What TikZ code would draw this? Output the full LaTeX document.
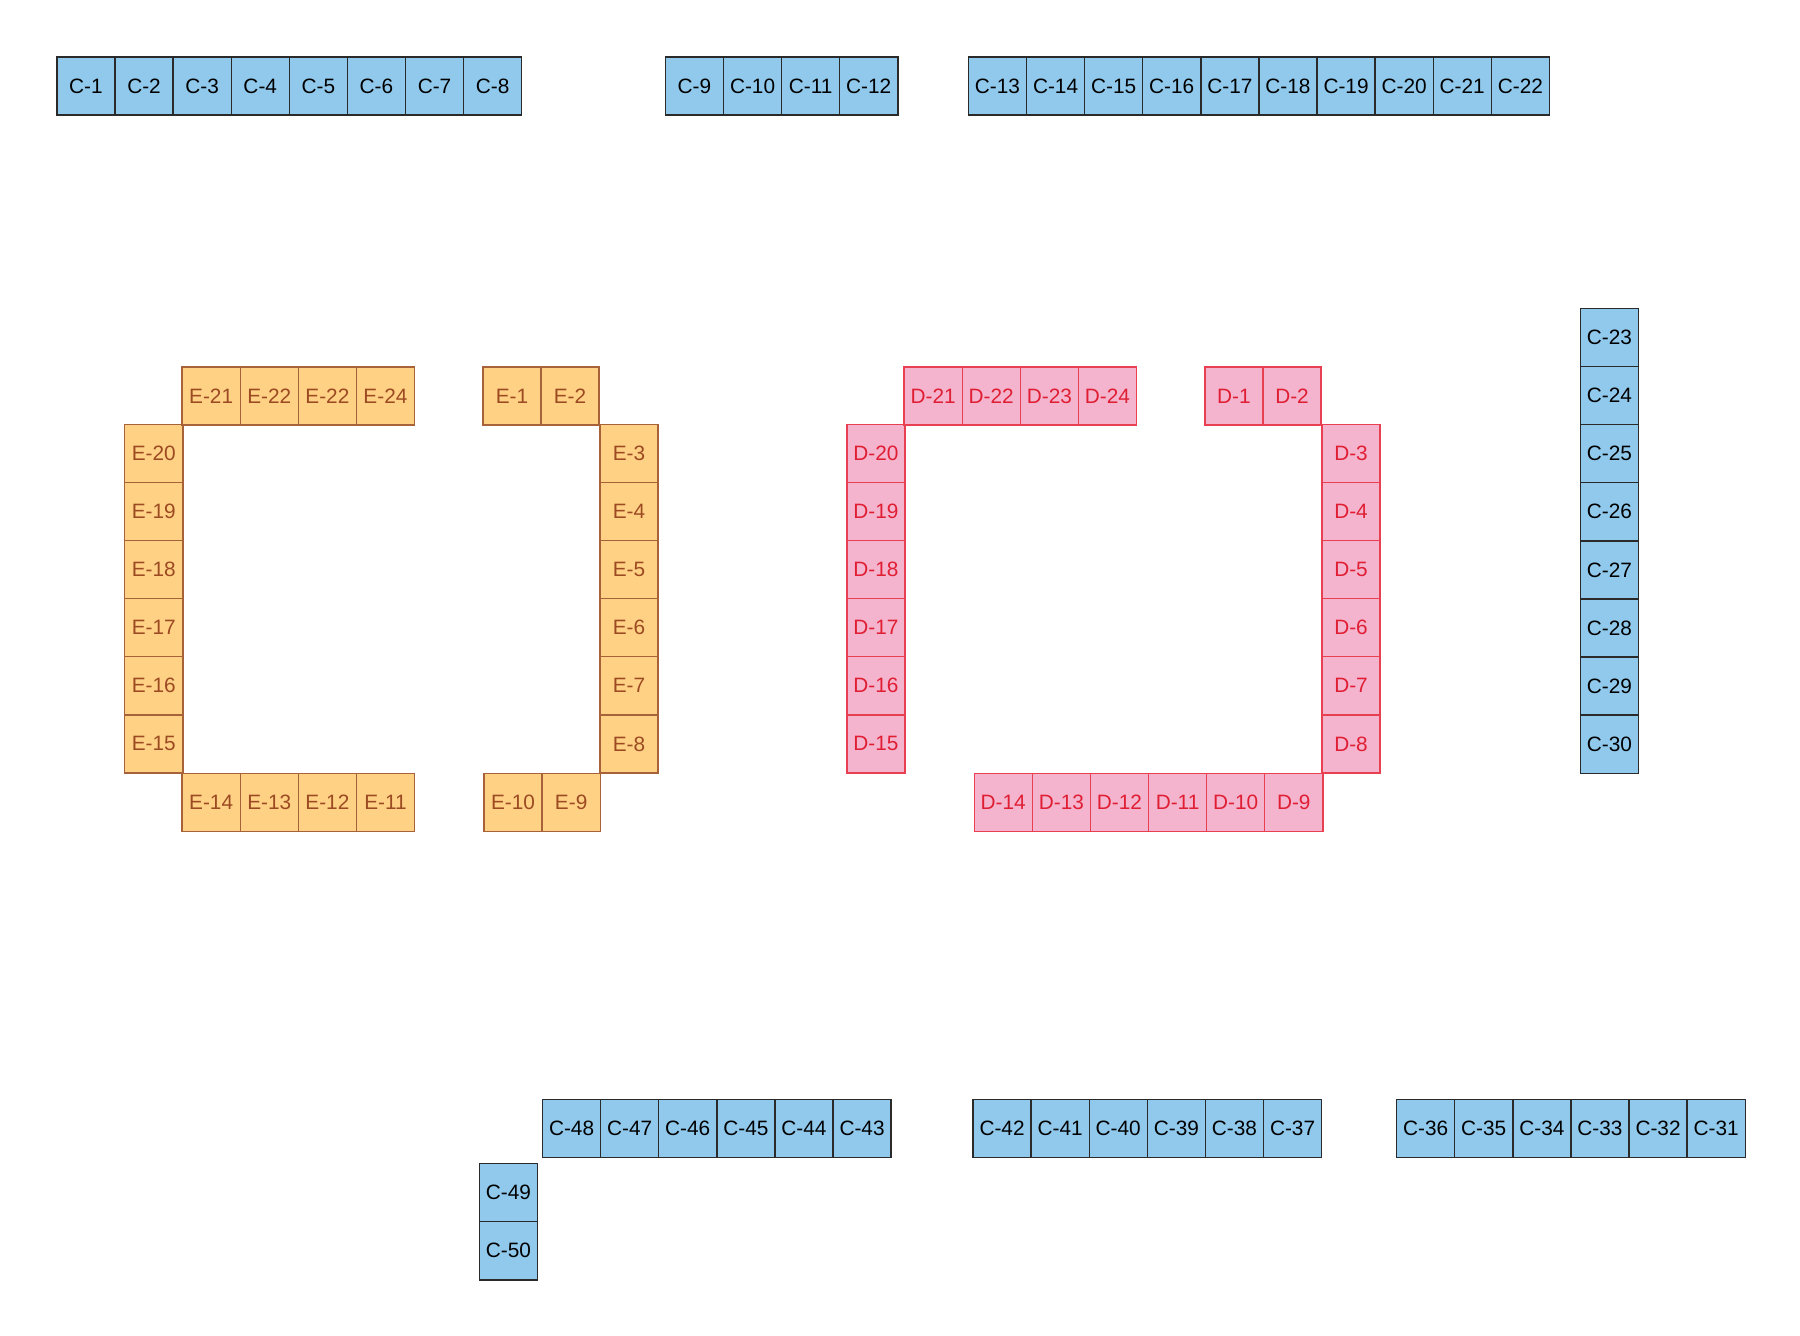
\documentclass[tikz,border=0pt]{standalone}
\usepackage{fontspec}
\setmainfont{Liberation Sans}
\definecolor{cfill}{HTML}{90C9EC}
\definecolor{cdraw}{HTML}{2A2A2A}
\definecolor{efill}{HTML}{FFD185}
\definecolor{edraw}{HTML}{A8623A}
\definecolor{etext}{HTML}{9C4A22}
\definecolor{dfill}{HTML}{F4B4CD}
\definecolor{ddraw}{HTML}{E84050}
\definecolor{dtext}{HTML}{E01E33}
\begin{document}
\begin{tikzpicture}[x=0.5pt,y=-0.5pt,
  cell/.style={draw, minimum width=29.05pt, minimum height=29.05pt, inner sep=0pt,
    anchor=north west, font=\fontsize{10.4}{12}\selectfont, line width=0.7pt},
  cbox/.style={cell, fill=cfill, draw=cdraw, text=black},
  ebox/.style={cell, fill=efill, draw=edraw, text=etext},
  dbox/.style={cell, fill=dfill, draw=ddraw, text=dtext}]
\path[use as bounding box] (0,0) rectangle (1800,1335);
\def\s{58.1}
% ---- blue C cells ----
\foreach \i in {1,...,8}   \node[cbox] (c\i) at ({56.2+(\i-1)*\s},56.2) {C-\i};
\foreach \i in {9,...,12}  \node[cbox] (c\i) at ({664.7+(\i-9)*\s},56.2) {C-\i};
\foreach \i in {13,...,22} \node[cbox] (c\i) at ({967.7+(\i-13)*\s},56.2) {C-\i};
\foreach \i in {23,...,30} \node[cbox] (c\i) at (1579.6,{307.7+(\i-23)*\s}) {C-\i};
\foreach \i in {31,...,36} \node[cbox] (c\i) at ({1395.9+(36-\i)*\s},1098.6) {C-\i};
\foreach \i in {37,...,42} \node[cbox] (c\i) at ({972.3+(42-\i)*\s},1098.6) {C-\i};
\foreach \i in {43,...,48} \node[cbox] (c\i) at ({541.8+(48-\i)*\s},1098.6) {C-\i};
\foreach \i in {49,50}     \node[cbox] (c\i) at (478.7,{1162.9+(\i-49)*\s}) {C-\i};
% ---- orange E cells ----
\foreach \i in {1,2}       \node[ebox] (e\i) at ({482.2+(\i-1)*\s},366.2) {E-\i};
\foreach \i in {3,...,8}   \node[ebox] (e\i) at (599.2,{423.6+(\i-3)*\s}) {E-\i};
\foreach \i in {9,10}      \node[ebox] (e\i) at ({483.3+(10-\i)*\s},772.6) {E-\i};
\foreach \i in {11,...,14} \node[ebox] (e\i) at ({181.4+(14-\i)*\s},772.6) {E-\i};
\foreach \i in {15,...,20} \node[ebox] (e\i) at (124,{423.6+(20-\i)*\s}) {E-\i};
\foreach \i/\t in {21/E-21,22/E-22,23/E-22,24/E-24}
  \node[ebox] (e\i) at ({181.4+(\i-21)*\s},366.2) {\t};
% ---- pink D cells ----
\foreach \i in {1,2}       \node[dbox] (d\i) at ({1204.2+(\i-1)*\s},366.2) {D-\i};
\foreach \i in {3,...,8}   \node[dbox] (d\i) at (1321.3,{423.6+(\i-3)*\s}) {D-\i};
\foreach \i in {9,...,14}  \node[dbox] (d\i) at ({973.5+(14-\i)*\s},772.6) {D-\i};
\foreach \i in {15,...,20} \node[dbox] (d\i) at (846.1,{423.6+(20-\i)*\s}) {D-\i};
\foreach \i in {21,...,24} \node[dbox] (d\i) at ({903.4+(\i-21)*\s},366.2) {D-\i};
\end{tikzpicture}
\end{document}
